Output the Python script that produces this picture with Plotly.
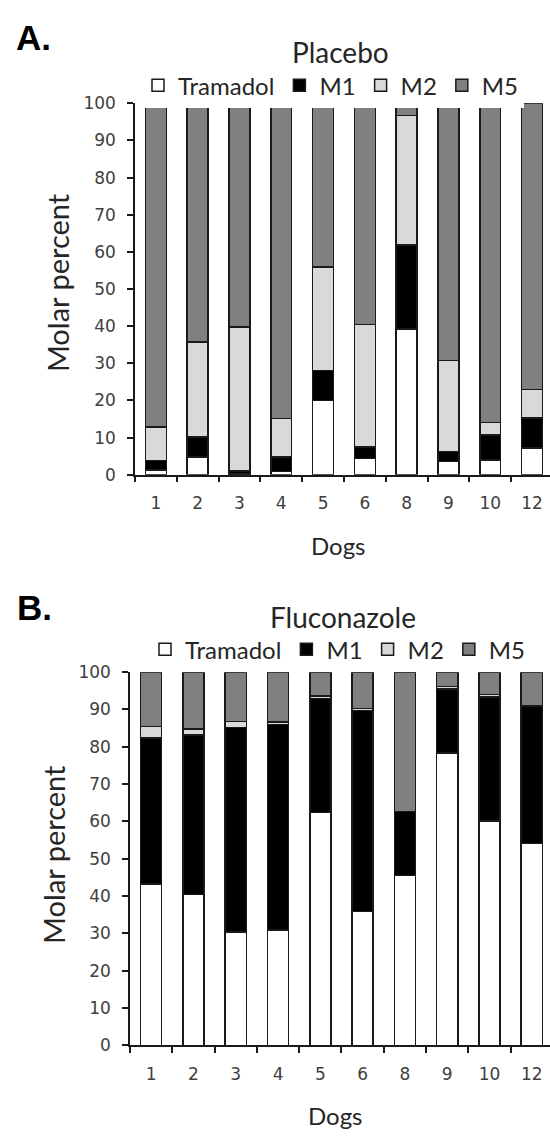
import plotly.graph_objects as go

dogs = ["1", "2", "3", "4", "5", "6", "8", "9", "10", "12"]
series_names = ["Tramadol", "M1", "M2", "M5"]
series_colors = ["#ffffff", "#000000", "#d9d9d9", "#808080"]

# Panel A: Placebo (molar percent per component)
placebo_tramadol = [1.3, 4.8, 0.2, 0.9, 20.0, 4.4, 39.2, 3.5, 4.0, 7.2]
placebo_m1 = [2.5, 5.3, 0.8, 3.8, 8.1, 3.1, 22.7, 2.7, 6.7, 8.0]
placebo_m2 = [9.0, 25.6, 38.8, 10.4, 27.8, 32.9, 34.8, 24.5, 3.4, 7.7]
placebo_m5 = [87.2, 64.3, 60.2, 84.9, 44.1, 59.6, 3.3, 69.3, 85.9, 77.1]

# Panel B: Fluconazole
flu_tramadol = [43.2, 40.4, 30.4, 30.9, 62.4, 35.9, 45.5, 78.3, 60.1, 54.1]
flu_m1 = [39.2, 42.8, 54.8, 55.1, 30.5, 53.8, 17.2, 17.2, 33.2, 36.9]
flu_m2 = [3.0, 1.6, 1.6, 0.6, 0.7, 0.6, 0.0, 0.7, 0.7, 0.0]
flu_m5 = [14.6, 15.2, 13.2, 13.4, 6.4, 9.7, 37.3, 3.8, 6.0, 9.0]

y_ticks = [0, 10, 20, 30, 40, 50, 60, 70, 80, 90, 100]

W, H = 550, 1138
TXT = "#262626"
TICK = "#404040"
SANS = "Lato"
NUM = "DejaVu Sans"

fig = go.Figure()

panels = [
    (dict(x="x", y="y", legend="legend"), [placebo_tramadol, placebo_m1, placebo_m2, placebo_m5]),
    (dict(x="x2", y="y2", legend="legend2"), [flu_tramadol, flu_m1, flu_m2, flu_m5]),
]
for axes, values in panels:
    for name, color, vals in zip(series_names, series_colors, values):
        fig.add_trace(go.Bar(
            x=dogs, y=vals, name=name,
            xaxis=axes["x"], yaxis=axes["y"], legend=axes["legend"],
            marker=dict(color=color, line=dict(color="#1a1a1a", width=1.5)),
            width=0.5,
        ))


def px_x(p):
    return p / W


def px_y(p):
    return 1 - p / H


common_x = dict(
    type="category", range=[-0.5, 9.43], showline=True, linecolor="#1a1a1a", linewidth=1.5,
    ticks="outside", tickson="boundaries", ticklen=6, tickwidth=1.5, tickcolor="#1a1a1a",
    showgrid=False, zeroline=False, tickfont=dict(family=NUM, size=17, color=TICK),
    ticklabelstandoff=12, fixedrange=True,
)
common_y = dict(
    range=[0, 100], tickvals=y_ticks, showline=True, linecolor="#1a1a1a", linewidth=1.5,
    ticks="outside", ticklen=6, tickwidth=1.5, tickcolor="#1a1a1a",
    showgrid=False, zeroline=False, tickfont=dict(family=NUM, size=17, color=TICK),
    ticklabelstandoff=8, fixedrange=True,
)

fig.update_layout(
    width=W, height=H,
    margin=dict(l=0, r=0, t=0, b=0),
    paper_bgcolor="white", plot_bgcolor="white",
    barmode="stack", bargap=0.5,
    xaxis=dict(domain=[px_x(135), 1], anchor="y", **common_x),
    yaxis=dict(domain=[px_y(473), px_y(95)], anchor="x", **common_y),
    xaxis2=dict(domain=[px_x(130), 1], anchor="y2", **common_x),
    yaxis2=dict(domain=[px_y(1054), px_y(674)], anchor="x2", **common_y),
    legend=dict(orientation="h", x=px_x(138), y=px_y(77), xanchor="left", yanchor="middle",
                font=dict(family=SANS, size=24, color=TXT), itemclick=False, itemdoubleclick=False,
                traceorder="normal"),
    legend2=dict(orientation="h", x=px_x(145), y=px_y(651), xanchor="left", yanchor="middle",
                 font=dict(family=SANS, size=24, color=TXT), itemclick=False, itemdoubleclick=False,
                 traceorder="normal"),
    showlegend=True,
)

annotations = [
    dict(text="<b>A.</b>", x=px_x(14), y=px_y(28), xanchor="left", yanchor="middle",
         font=dict(family="Liberation Sans", size=35, color="#000000")),
    dict(text="<b>B.</b>", x=px_x(15), y=px_y(608), xanchor="left", yanchor="middle",
         font=dict(family="Liberation Sans", size=35, color="#000000")),
    dict(text="Placebo", x=px_x(340), y=px_y(43), xanchor="center", yanchor="middle",
         font=dict(family=SANS, size=28, color=TXT)),
    dict(text="Fluconazole", x=px_x(343), y=px_y(618), xanchor="center", yanchor="middle",
         font=dict(family=SANS, size=28, color=TXT)),
    dict(text="Molar percent", x=px_x(57), y=px_y(278), xanchor="center", yanchor="middle",
         textangle=-90, font=dict(family=SANS, size=29, color=TXT)),
    dict(text="Molar percent", x=px_x(54), y=px_y(860), xanchor="center", yanchor="middle",
         textangle=-90, font=dict(family=SANS, size=29, color=TXT)),
    dict(text="Dogs", x=px_x(338), y=px_y(545), xanchor="center", yanchor="middle",
         font=dict(family=SANS, size=24, color=TXT)),
    dict(text="Dogs", x=px_x(335), y=px_y(1125), xanchor="center", yanchor="middle",
         font=dict(family=SANS, size=24, color=TXT)),
]
for a in annotations:
    a.update(xref="paper", yref="paper", showarrow=False)
fig.update_layout(annotations=annotations)

fig.write_html(
    "out.html",
    config={"displayModeBar": False},
    post_script="document.body.style.margin='0';document.body.style.overflow='hidden';",
)
